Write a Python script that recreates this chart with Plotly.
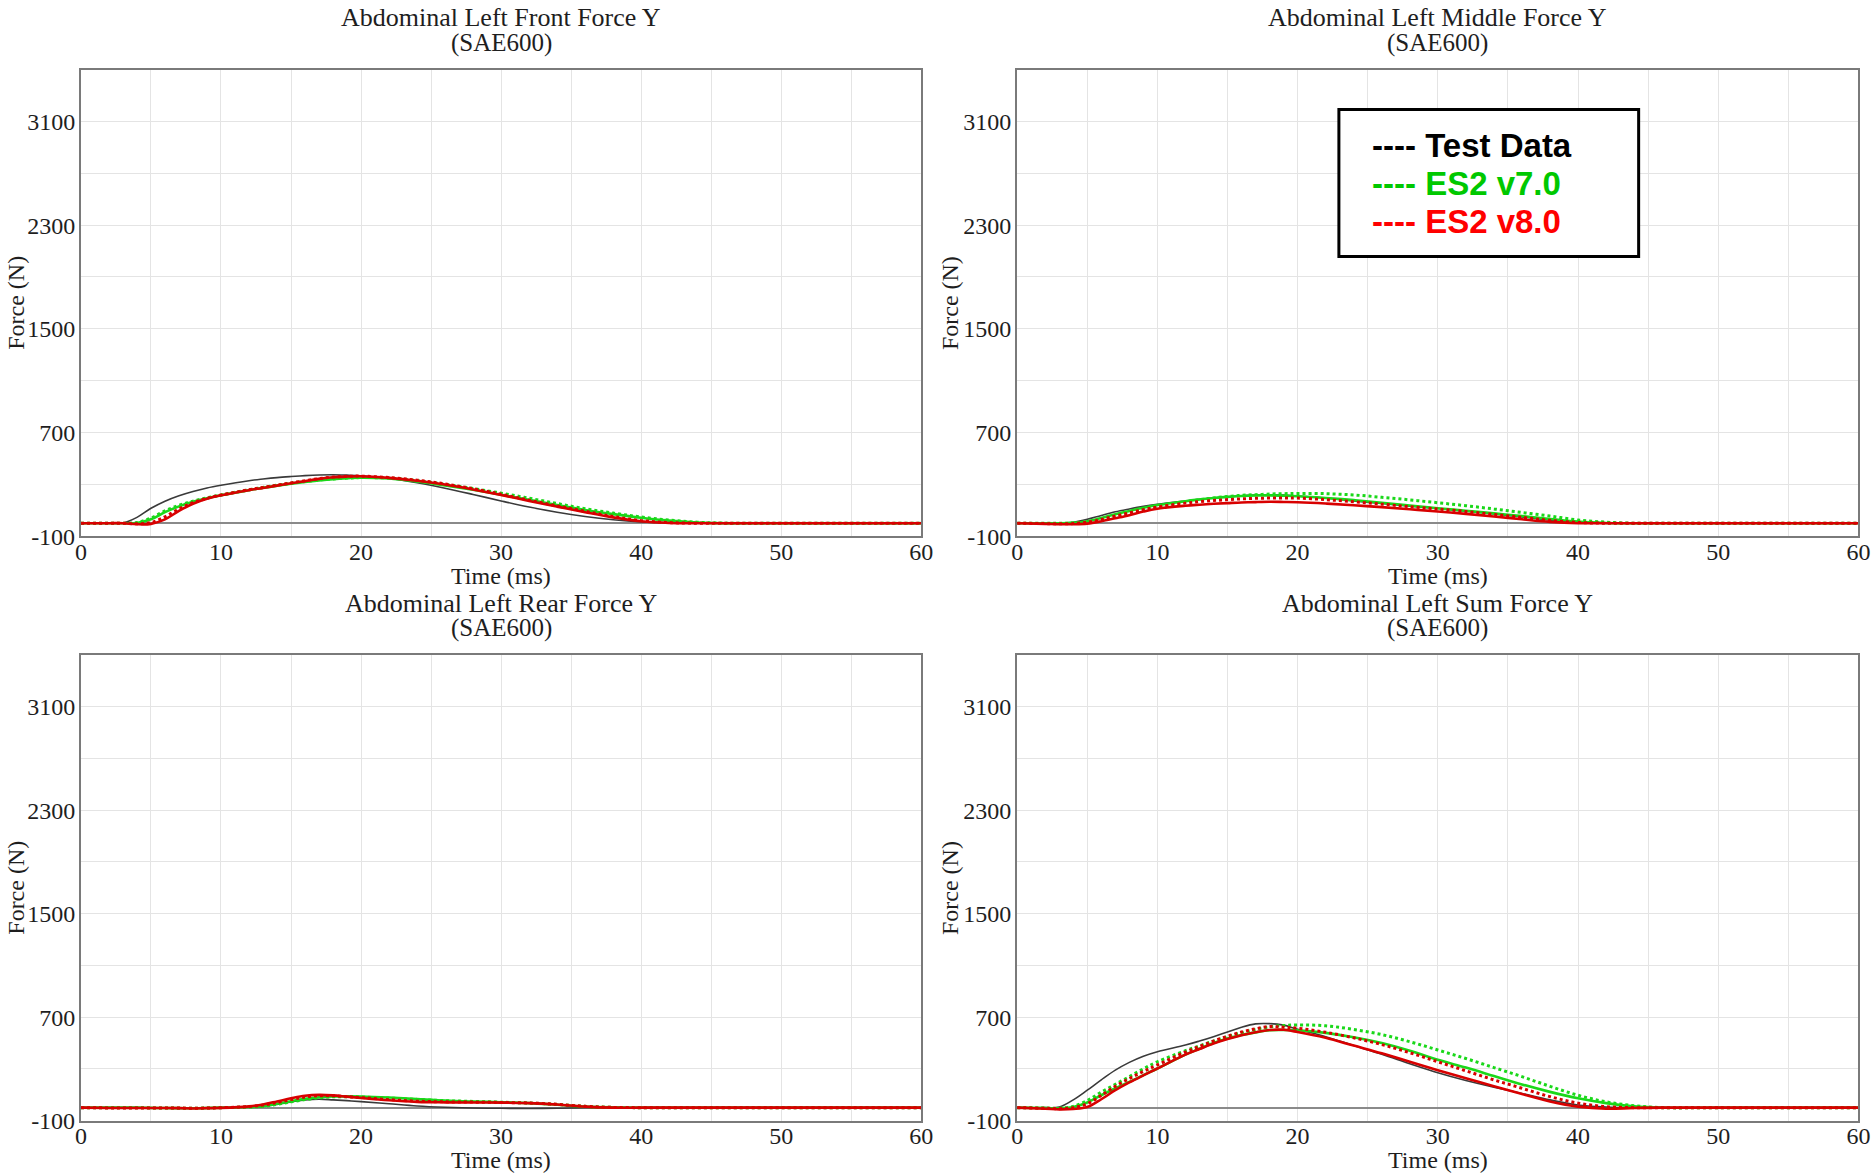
import plotly.graph_objects as go

# ---------------- data ----------------
T = [0, 2, 3, 4, 5, 6, 7, 8, 9, 10, 12, 13, 14, 15, 16, 17, 18, 19, 20,
     22, 24, 26, 28, 30, 32, 34, 36, 38, 40, 42, 44, 46, 50, 60]

panel_titles = ["Abdominal Left Front Force Y", "Abdominal Left Middle Force Y",
                "Abdominal Left Rear Force Y", "Abdominal Left Sum Force Y"]
panel_subtitle = "(SAE600)"

front_test = [0, 0, 2, 45, 115, 170, 212, 245, 272, 293, 328, 341, 352, 360, 367, 372, 374, 371, 366,
              345, 312, 270, 222, 172, 125, 85, 52, 27, 10, 2, 0, 0, 0, 0]
front_v7 = [0, 0, 0, 2, 30, 85, 130, 165, 192, 215, 255, 273, 290, 305, 318, 330, 340, 347, 352,
            345, 322, 292, 258, 220, 180, 140, 102, 70, 42, 20, 6, 0, 0, 0]
front_v7_dot = [0, 0, 0, 5, 40, 95, 138, 170, 196, 218, 258, 276, 293, 308, 322, 333, 342, 348, 352,
                348, 328, 300, 268, 232, 193, 152, 112, 78, 48, 24, 8, 1, 0, 0]
front_v8 = [0, 0, 0, -8, -5, 30, 95, 150, 188, 215, 255, 272, 290, 308, 325, 342, 355, 360, 362,
            350, 328, 298, 260, 218, 172, 128, 85, 45, 15, 2, 0, 0, 0, 0]
front_v8_dot = [0, 0, 0, -5, 5, 50, 110, 158, 192, 218, 258, 276, 294, 311, 328, 344, 356, 362, 363,
                352, 332, 303, 266, 224, 178, 134, 92, 52, 20, 5, 0, 0, 0, 0]

middle_test = [0, 0, 0, 8, 30, 60, 88, 110, 130, 146, 172, 184, 195, 204, 212, 217, 220, 217, 210,
               195, 172, 152, 132, 114, 93, 72, 48, 24, 6, 0, 0, 0, 0, 0]
middle_v7 = [0, 0, 0, 3, 15, 40, 70, 95, 120, 140, 170, 183, 195, 203, 210, 214, 215, 212, 208,
             195, 178, 158, 137, 116, 96, 76, 55, 33, 12, 2, 0, 0, 0, 0]
middle_v7_dot = [0, 0, 0, 2, 10, 30, 58, 85, 110, 130, 165, 180, 195, 206, 215, 220, 225, 228, 230,
                 228, 218, 200, 180, 158, 135, 110, 83, 55, 25, 8, 0, 0, 0, 0]
middle_v8 = [0, -5, -8, -8, -3, 15, 38, 62, 90, 112, 135, 143, 150, 155, 160, 163, 165, 164, 162,
             152, 138, 124, 108, 90, 72, 52, 30, 10, 0, 0, 0, 0, 0, 0]
middle_v8_dot = [0, -3, -5, -3, 8, 28, 55, 80, 105, 125, 155, 166, 175, 182, 188, 192, 194, 194, 194,
                 182, 165, 147, 128, 110, 90, 68, 45, 22, 6, 0, 0, 0, 0, 0]

rear_test = [0, 0, 0, 0, -2, -3, -4, -5, -3, 0, 5, 10, 25, 45, 60, 65, 60, 54, 47,
             30, 13, 3, -3, -5, -6, -5, 0, 0, 0, 0, 0, 0, 0, 0]
rear_v7 = [0, 0, 0, 0, -2, -3, -4, -5, -3, 0, 5, 12, 30, 50, 68, 80, 86, 87, 86,
           78, 66, 54, 47, 42, 35, 22, 8, 2, 0, 0, 0, 0, 0, 0]
rear_v7_dot = [0, 0, 0, 0, -2, -3, -4, -5, -3, 0, 5, 10, 25, 45, 62, 76, 84, 84, 82,
               74, 64, 54, 48, 42, 36, 25, 10, 2, 0, 0, 0, 0, 0, 0]
rear_v8 = [0, -3, -3, -3, -3, -3, -4, -6, -4, -2, 10, 25, 48, 72, 92, 99, 95, 85, 75,
           57, 45, 41, 40, 39, 35, 24, 8, 0, 0, 0, 0, 0, 0, 0]
rear_v8_dot = [0, -2, -2, -2, -2, -2, -3, -5, -3, 0, 8, 20, 40, 62, 82, 92, 92, 85, 78,
               62, 50, 45, 43, 40, 36, 26, 10, 2, 0, 0, 0, 0, 0, 0]

sum_test = [0, 0, 5, 60, 135, 215, 290, 350, 398, 433, 484, 515, 549, 585, 622, 648, 650, 638, 606,
            549, 480, 413, 340, 270, 210, 158, 110, 60, 20, 5, 0, 0, 0, 0]
sum_v7 = [0, -3, -5, 5, 40, 96, 150, 199, 252, 303, 410, 455, 500, 535, 562, 582, 598, 600, 598,
          578, 545, 500, 440, 370, 310, 245, 180, 122, 72, 35, 10, 0, 0, 0]
sum_v7_dot = [0, -3, -5, 10, 55, 120, 180, 240, 300, 355, 440, 478, 515, 550, 580, 605, 625, 635, 640,
              633, 605, 565, 510, 446, 380, 310, 240, 165, 96, 45, 15, 0, 0, 0]
sum_v8 = [0, -8, -13, -10, 5, 65, 135, 195, 250, 303, 410, 453, 495, 530, 560, 583, 600, 602, 585,
          540, 480, 420, 355, 290, 228, 165, 105, 48, 8, -8, -3, 0, 0, 0]
sum_v8_dot = [0, -5, -8, 0, 30, 95, 165, 225, 280, 330, 430, 473, 515, 552, 585, 610, 627, 622, 614,
              583, 540, 488, 425, 355, 285, 215, 150, 85, 35, 8, 0, 0, 0, 0]

x_tickvals = [0, 5, 10, 15, 20, 25, 30, 35, 40, 45, 50, 55, 60]
x_ticktext = ["0", "", "10", "", "20", "", "30", "", "40", "", "50", "", "60"]
y_tickvals = [-100, 300, 700, 1100, 1500, 1900, 2300, 2700, 3100, 3500]
y_ticktext = ["-100", "", "700", "", "1500", "", "2300", "", "3100", ""]

legend_names = ["Test Data", "ES2 v7.0", "ES2 v8.0"]

panels = [
    (front_test, front_v7, front_v7_dot, front_v8, front_v8_dot),
    (middle_test, middle_v7, middle_v7_dot, middle_v8, middle_v8_dot),
    (rear_test, rear_v7, rear_v7_dot, rear_v8, rear_v8_dot),
    (sum_test, sum_v7, sum_v7_dot, sum_v8, sum_v8_dot),
]

# ---------------- layout geometry (target pixels in the 1871x1173 picture) ----------------
W, H = 1871, 1173
xdoms_px = [(79, 920), (1016, 1858)]
ydoms_px = [(68, 535), (654, 1120)]  # top, bottom in pixels from top
# empirical correction measured from a previous render
XS, XO = 0.9912, 4.0
YS, YO = 0.9899, -1.7


def fx(px):
    return min(max((px - XO) / XS / W, 0.0), 1.0)


def fy(py):
    return min(max(1 - (py - YO) / YS / H, 0.0), 1.0)


SERIF = "Liberation Serif, Times New Roman, serif"
GREEN = "#1ad81a"
RED = "#d80000"
TEST = "#3a3a3a"
TXT = "#1e1e1e"

fig = go.Figure()
annotations = []
for i, (test, v7, v7d, v8, v8d) in enumerate(panels):
    r, c = divmod(i, 2)
    ax = "" if i == 0 else str(i + 1)
    xref, yref = "x" + ax, "y" + ax
    common = dict(x=T, xaxis=xref, yaxis=yref, mode="lines", line_shape="spline",
                  showlegend=False, hoverinfo="skip")
    fig.add_trace(go.Scatter(y=test, line=dict(color=TEST, width=1.6), **common))
    fig.add_trace(go.Scatter(y=v7d, line=dict(color=GREEN, width=3, dash="dot"), **common))
    fig.add_trace(go.Scatter(y=v7, line=dict(color=GREEN, width=2.6), **common))
    fig.add_trace(go.Scatter(y=v8d, line=dict(color=RED, width=3, dash="dot"), **common))
    fig.add_trace(go.Scatter(y=v8, line=dict(color=RED, width=2.6), **common))

    x0, x1 = xdoms_px[c]
    ytop, ybot = ydoms_px[r]
    axis_common = dict(showline=True, mirror=True, linecolor="#7a7a7a", linewidth=2,
                       showgrid=True, gridcolor="#e4e4e4", gridwidth=1, ticks="",
                       tickfont=dict(family=SERIF, size=24, color=TXT))
    fig.layout["xaxis" + ax] = dict(domain=[fx(x0), fx(x1)], range=[0, 60], anchor=yref,
                                    tickmode="array", tickvals=x_tickvals, ticktext=x_ticktext,
                                    zeroline=False, ticklabelstandoff=-7, **axis_common)
    fig.layout["yaxis" + ax] = dict(domain=[fy(ybot), fy(ytop)], range=[-100, 3500], anchor=xref,
                                    tickmode="array", tickvals=y_tickvals, ticktext=y_ticktext,
                                    zeroline=True, zerolinecolor="#8a8a8a", zerolinewidth=1.5,
                                    ticklabelstandoff=-1, **axis_common)

    cx = fx((x0 + x1) / 2)
    annotations.append(dict(text=panel_titles[i], x=cx, y=fy(ytop - 52), xref="paper", yref="paper",
                            xanchor="center", yanchor="middle", showarrow=False,
                            font=dict(family=SERIF, size=26, color=TXT)))
    annotations.append(dict(text=panel_subtitle, x=cx, y=fy(ytop - 27), xref="paper", yref="paper",
                            xanchor="center", yanchor="middle", showarrow=False,
                            font=dict(family=SERIF, size=25, color=TXT)))
    annotations.append(dict(text="Time (ms)", x=cx, y=fy(ybot + 40),
                            xref="paper", yref="paper",
                            xanchor="center", yanchor="middle", showarrow=False,
                            font=dict(family=SERIF, size=24, color=TXT)))
    annotations.append(dict(text="Force (N)", x=max(fx(x0 - 67), 10 / W), y=fy((ytop + ybot) / 2),
                            xref="paper", yref="paper", textangle=-90,
                            xanchor="center", yanchor="middle", showarrow=False,
                            font=dict(family=SERIF, size=24, color=TXT)))

# legend box
SANS = "Liberation Sans, Arial, sans-serif"
legend_colors = ["#000000", "#00c800", "#ff0000"]
legend_y = [144, 182, 220]
for name, col, ly in zip(legend_names, legend_colors, legend_y):
    annotations.append(dict(text="<b>---- " + name + "</b>", x=fx(1369), y=fy(ly),
                            xref="paper", yref="paper", xanchor="left", yanchor="middle",
                            showarrow=False, font=dict(family=SANS, size=33, color=col)))

fig.update_layout(
    width=W, height=H,
    margin=dict(l=0, r=0, t=0, b=0),
    paper_bgcolor="white", plot_bgcolor="white",
    annotations=annotations,
    shapes=[dict(type="rect", xref="paper", yref="paper",
                 x0=fx(1338), x1=fx(1638), y0=fy(255), y1=fy(108),
                 line=dict(color="black", width=3), fillcolor="white", layer="above")],
)

# remove the default page margin so the figure fills the window exactly
fig.write_html("out.html", config={"displayModeBar": False},
               post_script="document.body.style.margin='0px';document.body.style.overflow='hidden';")
